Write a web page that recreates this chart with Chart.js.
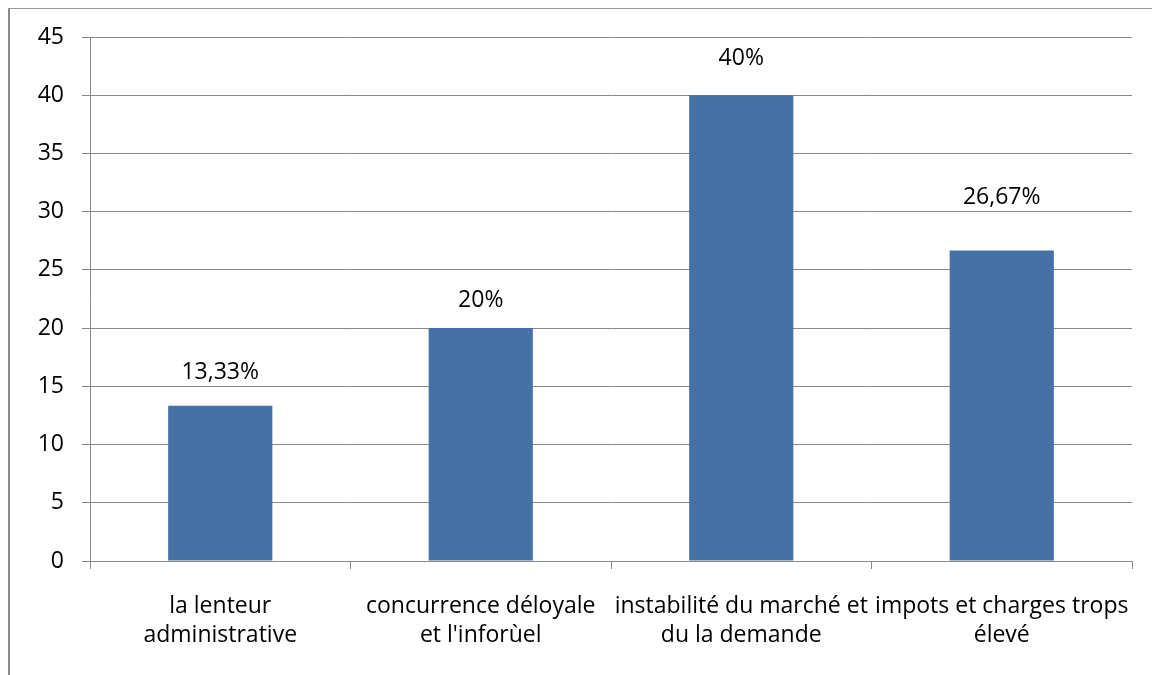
<!DOCTYPE html>
<html>
<head>
<meta charset="utf-8">
<script src="https://cdn.jsdelivr.net/npm/chart.js@4/dist/chart.umd.min.js"></script>
<style>
    html, body { margin: 0; padding: 0; background: #fff; }
    #wrap { position: relative; width: 1152px; height: 675px; }
    #cadre {
        position: absolute; left: 8px; top: 8px; right: 0; bottom: 0;
        border-left: 2px solid #8c8c8c; border-top: 1px solid #9a9a9a;
    }
    #graphique { position: absolute; left: 0; top: 0; }
</style>
</head>
<body>
<div id="wrap">
    <div id="cadre"></div>
    <canvas id="graphique" width="1152" height="675"></canvas>
</div>
<script>
// Difficultés rencontrées (en %)
const categories = [
    ['la lenteur', 'administrative'],
    ['concurrence déloyale', "et l'inforùel"],
    ['instabilité du marché et', 'du la demande'],
    ['impots et charges trops', 'élevé']
];
const valeurs = [13.33, 20, 40, 26.67];
const etiquettes = ['13,33%', '20%', '40%', '26,67%'];
const ticksY = [0, 5, 10, 15, 20, 25, 30, 35, 40, 45];

const police = { family: '"Open Sans", Lato, sans-serif', size: 23 };
const gris = '#888888';

// Étiquettes de valeur au-dessus des barres
const etiquettesBarres = {
    id: 'etiquettesBarres',
    afterDatasetsDraw(chart, args, opts) {
        const ctx = chart.ctx;
        const meta = chart.getDatasetMeta(0);
        ctx.save();
        ctx.font = police.size + 'px ' + police.family;
        ctx.fillStyle = '#000';
        ctx.textAlign = 'center';
        ctx.textBaseline = 'middle';
        meta.data.forEach((bar, i) => {
            ctx.fillText(etiquettes[i], bar.x, bar.y - opts.decalages[i]);
        });
        ctx.restore();
    }
};

new Chart(document.getElementById('graphique').getContext('2d'), {
    type: 'bar',
    data: {
        labels: categories,
        datasets: [{
            data: valeurs,
            backgroundColor: '#4571a5',
            borderWidth: 0,
            categoryPercentage: 1,
            barPercentage: 0.4
        }]
    },
    options: {
        responsive: false,
        animation: false,
        layout: { padding: { top: 37, right: 20, left: 0, bottom: 0 } },
        plugins: {
            legend: { display: false },
            tooltip: { enabled: false },
            etiquettesBarres: { decalages: [33, 28, 37, 53] }
        },
        scales: {
            y: {
                min: 0,
                max: 45,
                afterFit(scale) { scale.width = 90; },
                afterBuildTicks(scale) { scale.ticks = ticksY.map(v => ({ value: v })); },
                grid: { color: gris, lineWidth: 1, tickLength: 8 },
                border: { color: gris, width: 1 },
                ticks: { color: '#000', font: police, padding: 18 }
            },
            x: {
                afterFit(scale) {
                    scale.height = 114;
                    scale.paddingLeft = 0;
                    scale.paddingRight = 0;
                },
                grid: { drawOnChartArea: false, color: gris, tickLength: 8, offset: true },
                border: { color: gris, width: 1 },
                ticks: { color: '#000', font: { ...police, lineHeight: '29px' }, padding: 23, maxRotation: 0 }
            }
        }
    },
    plugins: [etiquettesBarres]
});
</script>
</body>
</html>
